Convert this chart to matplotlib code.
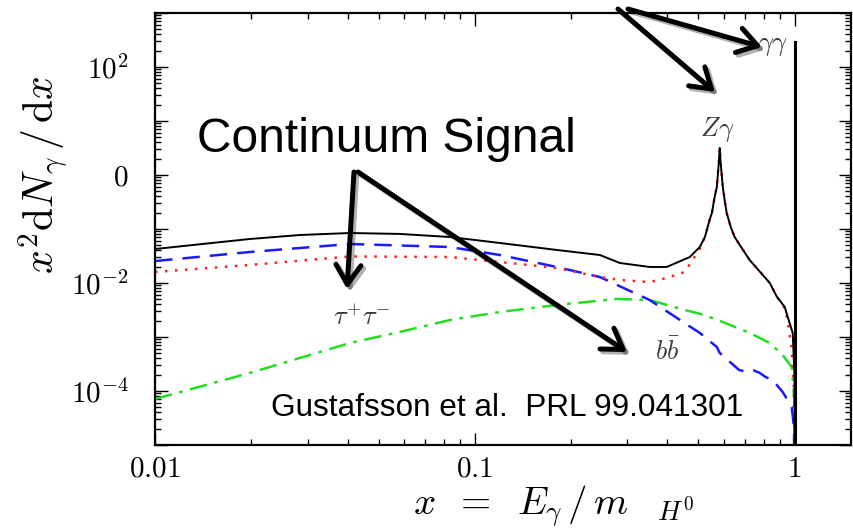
import matplotlib
matplotlib.use('Agg')
import matplotlib.pyplot as plt
import matplotlib.ticker as mticker
import matplotlib.patheffects as pe

plt.rcParams['mathtext.fontset'] = 'cm'

# ---- data ----
x_total = [0.01, 0.0198, 0.0284, 0.0407, 0.0583, 0.0835, 0.1197, 0.1803, 0.246, 0.284, 0.352, 0.398,
           0.470, 0.505, 0.524, 0.542, 0.551, 0.562, 0.571, 0.579, 0.583, 0.587, 0.596, 0.604, 0.613,
           0.631, 0.649, 0.683, 0.723, 0.836, 0.879, 0.931, 0.951, 0.986, 0.999, 1.0]
y_total = [0.0426, 0.0653, 0.0774, 0.0843, 0.081, 0.0711, 0.0551, 0.0409, 0.033, 0.0235, 0.0198, 0.0198,
           0.0303, 0.0464, 0.0711, 0.147, 0.198, 0.392, 0.600, 1.67, 3.16, 1.67, 0.600, 0.344, 0.198,
           0.109, 0.0711, 0.0445, 0.0267, 0.0100, 0.0056, 0.0036, 0.00235, 0.00119, 0.00018, 1e-6]

x_tau = [0.01, 0.0198, 0.0407, 0.0835, 0.1197, 0.1803, 0.246, 0.284, 0.352, 0.398, 0.453, 0.48, 0.505,
         0.524, 0.542, 0.551, 0.562, 0.571, 0.579, 0.583, 0.587, 0.596, 0.604, 0.613, 0.631, 0.649, 0.683,
         0.723, 0.836, 0.879, 0.931, 0.951, 0.979, 0.995, 1.0]
y_tau = [0.016, 0.0216, 0.031, 0.0303, 0.0245, 0.019, 0.0129, 0.0114, 0.0104, 0.0124, 0.016, 0.027, 0.043,
         0.0711, 0.147, 0.198, 0.392, 0.600, 1.67, 3.16, 1.67, 0.600, 0.344, 0.198, 0.109, 0.0711, 0.0445,
         0.0267, 0.0100, 0.0056, 0.0034, 0.002, 0.0006, 0.0001, 1e-6]

x_bb = [0.01, 0.0198, 0.0407, 0.0835, 0.1197, 0.1803, 0.246, 0.352, 0.453, 0.505, 0.571, 0.583, 0.659,
        0.670, 0.700, 0.723, 0.745, 0.778, 0.81, 0.853, 0.917, 0.979, 0.995, 1.0]
y_bb = [0.0255, 0.0375, 0.0528, 0.0464, 0.033, 0.0198, 0.0129, 0.00484, 0.00181, 0.00119, 0.000653,
        0.000506, 0.000267, 0.000245, 0.00023, 0.000225, 0.00024, 0.000216, 0.000182, 0.00016, 0.0000958,
        0.0000506, 0.0000215, 1e-6]

x_ww = [0.01, 0.0198, 0.0407, 0.0583, 0.0835, 0.1197, 0.1803, 0.277, 0.352, 0.453, 0.505, 0.571, 0.723,
        0.836, 0.917, 0.979, 0.997, 1.0]
y_ww = [0.0000711, 0.000216, 0.000774, 0.00124, 0.00206, 0.0029, 0.00392, 0.00506, 0.00484, 0.00316,
        0.0027, 0.0021, 0.00119, 0.000774, 0.000464, 0.000278, 0.000068, 1e-6]

x_line = [1.0, 1.0]
y_line = [1e-6, 290]

xtick_vals = [0.01, 0.1, 1]
xtick_labels = ['0.01', '0.1', '1']
ytick_vals = [1e-4, 1e-2, 1e0, 1e2]
ytick_labels = [r'$10^{-4}$', r'$10^{-2}$', r'$0\;\;\,$', r'$10^{2}$']

W, H = 854, 532
fig = plt.figure(figsize=(W / 100, H / 100), dpi=100)
ax = fig.add_axes([155 / W, (H - 445) / H, (851 - 155) / W, (445 - 13) / H])

ax.plot(x_ww, y_ww, color='#22dd22', lw=1.8, dashes=(7, 3, 1.5, 3))
ax.plot(x_bb, y_bb, color='#1a1aff', lw=1.8, dashes=(7, 4))
ax.plot(x_tau, y_tau, color='#ff2020', lw=1.8, dashes=(1, 3))
ax.plot(x_total, y_total, color='black', lw=1.4)
ax.plot(x_line, y_line, color='black', lw=2.2)

ax.set_xscale('log')
ax.set_yscale('log')
ax.set_xlim(0.01, 1.5)
ax.set_ylim(1e-5, 1e3)

ax.xaxis.set_major_locator(mticker.FixedLocator(xtick_vals))
ax.xaxis.set_major_formatter(mticker.FixedFormatter(['$' + s + '$' for s in xtick_labels]))
ax.xaxis.set_minor_locator(mticker.LogLocator(base=10, subs=range(2, 10), numticks=20))
ax.xaxis.set_minor_formatter(mticker.NullFormatter())

ydec = [10.0 ** k for k in range(-5, 4)]
ylab_map = dict(zip(ytick_vals, ytick_labels))
ax.yaxis.set_major_locator(mticker.FixedLocator(ydec))
ax.yaxis.set_major_formatter(mticker.FuncFormatter(
    lambda v, p: next((lab for tv, lab in ylab_map.items() if abs(v / tv - 1) < 1e-6), '')))
ax.yaxis.set_minor_locator(mticker.LogLocator(base=10, subs=range(2, 10), numticks=20))
ax.yaxis.set_minor_formatter(mticker.NullFormatter())

ax.tick_params(which='both', direction='in', top=True, right=True, width=1.0, colors='black')
ax.tick_params(which='major', length=9)
ax.tick_params(which='minor', length=4.5)
ax.tick_params(axis='x', which='major', labelsize=21, pad=7)
ax.tick_params(axis='y', which='major', labelsize=21, pad=19)
for sp in ax.spines.values():
    sp.set_linewidth(1.6)

# axis labels
fig.text(43 / W, 1 - 175 / H, r'$x^2\mathrm{d}N_\gamma\,/\,\mathrm{d}x$', rotation=90,
         ha='center', va='center', fontsize=30)
fig.text(553 / W, 1 - 514 / H, r'$x\;\;=\;\;E_\gamma\,/\,m\;\;\;_{H^0}$', ha='center',
         va='baseline', fontsize=28)

# curve labels
lab_col = '#3a3a3a'
ax.text((717 - 155) / 696, (445 - 130) / 432, r'$Z\gamma$', transform=ax.transAxes,
        ha='center', va='center', fontsize=19, color=lab_col)
ax.text((773 - 155) / 696, (445 - 45) / 432, r'$\gamma\gamma$', transform=ax.transAxes,
        ha='center', va='center', fontsize=19, color=lab_col)
ax.text((362 - 155) / 696, (445 - 318) / 432, r'$\tau^{+}\tau^{-}$', transform=ax.transAxes,
        ha='center', va='center', fontsize=19, color=lab_col)
ax.text((667 - 155) / 696, (445 - 352) / 432, r'$b\bar{b}$', transform=ax.transAxes,
        ha='center', va='center', fontsize=19, color=lab_col)

# slide annotations
fig.text(197 / W, 1 - 152 / H, 'Continuum Signal', family='Liberation Sans', fontsize=34.5,
         ha='left', va='baseline', color='black')
fig.text(271 / W, 1 - 408 / H, 'Gustafsson et al.  PRL 99.041301', family='Liberation Sans',
         fontsize=22.7, ha='left', va='center', color='black')


def arrow(x0, y0, x1, y1):
    ax.annotate('', xy=(x1, H - y1), xytext=(x0, H - y0), xycoords='figure pixels',
                textcoords='figure pixels', annotation_clip=False,
                arrowprops=dict(arrowstyle='->,head_length=0.7,head_width=0.45', lw=3.6,
                                color='black', shrinkA=0, shrinkB=0, mutation_scale=20,
                                path_effects=[pe.SimpleLineShadow(offset=(2, -2), shadow_color='k',
                                                                  alpha=0.3), pe.Normal()]))


arrow(618, 9, 715, 92)
arrow(628, 9, 762, 47)
arrow(354, 172, 347, 289)
arrow(358, 172, 627, 352)

fig.savefig('out.png', dpi=100)
